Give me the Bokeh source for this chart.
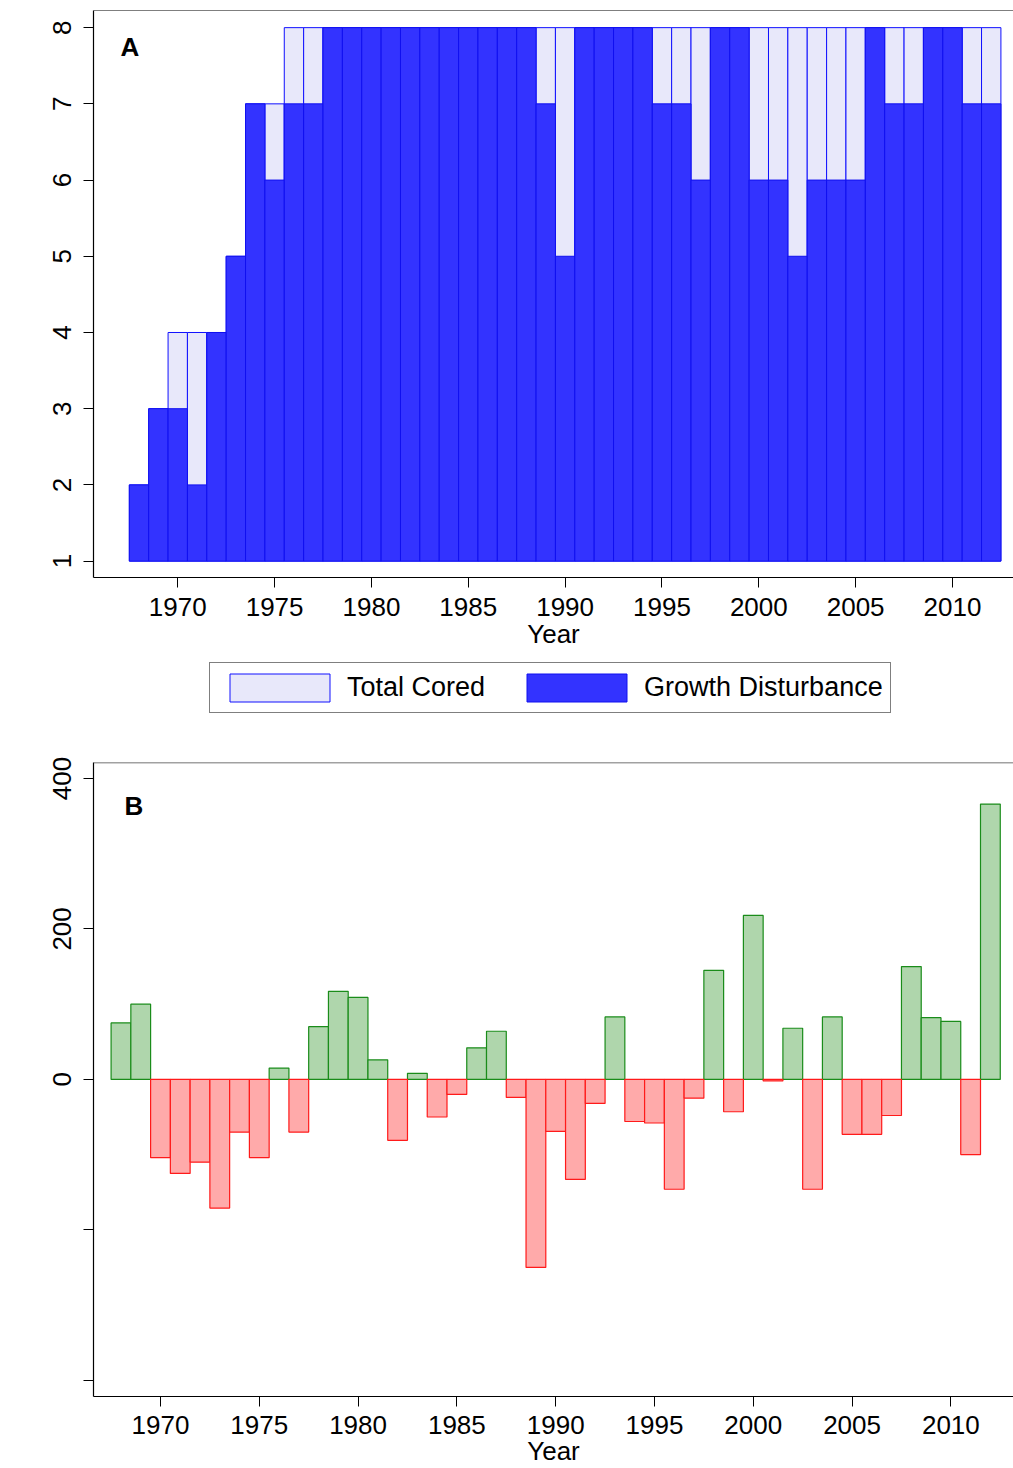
from bokeh.plotting import figure
from bokeh.layouts import column
from bokeh.models import (ColumnDataSource, Legend, LegendItem, FixedTicker,
                          Range1d, Span, Label)
from bokeh.embed import file_html
from bokeh.resources import INLINE

# ---------------- data ----------------
years = [1968, 1969, 1970, 1971, 1972, 1973, 1974, 1975, 1976, 1977,
         1978, 1979, 1980, 1981, 1982, 1983, 1984, 1985, 1986, 1987,
         1988, 1989, 1990, 1991, 1992, 1993, 1994, 1995, 1996, 1997,
         1998, 1999, 2000, 2001, 2002, 2003, 2004, 2005, 2006, 2007,
         2008, 2009, 2010, 2011, 2012]

total_cored = [2, 3, 4, 4, 4, 5, 7, 7, 8, 8,
               8, 8, 8, 8, 8, 8, 8, 8, 8, 8,
               8, 8, 8, 8, 8, 8, 8, 8, 8, 8,
               8, 8, 8, 8, 8, 8, 8, 8, 8, 8,
               8, 8, 8, 8, 8]

growth_disturbance = [2, 3, 3, 2, 4, 5, 7, 6, 7, 7,
                      8, 8, 8, 8, 8, 8, 8, 8, 8, 8,
                      8, 7, 5, 8, 8, 8, 8, 7, 7, 6,
                      8, 8, 6, 6, 5, 6, 6, 6, 8, 7,
                      7, 8, 8, 7, 7]

departure = [75, 100, -104, -125, -110, -171, -70, -104, 15, -70,
             70, 117, 109, 26, -81, 8, -50, -20, 42, 64,
             -24, -250, -69, -133, -32, 83, -56, -58, -146, -25,
             145, -43, 218, -2, 68, -146, 83, -73, -73, -48,
             150, 82, 77, -100, 366]

legend_labels = ["Total Cored", "Growth Disturbance"]
x_ticks = [1970, 1975, 1980, 1985, 1990, 1995, 2000, 2005, 2010]
a_y_ticks = [1, 2, 3, 4, 5, 6, 7, 8]
b_y_ticks = [-400, -200, 0, 200, 400]
b_hidden_labels = {-400: "", -200: ""}

FONT = "Liberation Sans"
FS = "26px"

TOT_FILL, TOT_LINE = "#E8E8FA", "#1010FF"
GD_FILL, GD_LINE = "#3333FF", "#1010F0"


def style(p):
    p.outline_line_color = None
    p.background_fill_color = "white"
    p.border_fill_color = "white"
    p.xgrid.visible = False
    p.ygrid.visible = False
    for ax in (p.xaxis, p.yaxis):
        ax.axis_line_color = "black"
        ax.axis_line_width = 1.2
        ax.major_tick_line_color = "black"
        ax.major_tick_out = 10
        ax.major_tick_in = 0
        ax.minor_tick_line_color = None
        ax.major_label_text_font = FONT
        ax.major_label_text_font_size = FS
        ax.major_label_text_color = "black"
        ax.axis_label_text_font = FONT
        ax.axis_label_text_font_size = FS
        ax.axis_label_text_font_style = "normal"
        ax.axis_label_text_color = "black"
    p.yaxis.major_label_orientation = "vertical"
    p.yaxis.major_label_standoff = 12
    p.xaxis.major_label_standoff = 10
    p.xaxis.axis_label_standoff = 0


# ---------------- panel A ----------------
srcA = ColumnDataSource(dict(year=years, total=total_cored, gd=growth_disturbance))

pA = figure(width=1013, height=655,
            x_range=Range1d(1965.65, 2013.15), y_range=Range1d(0.785, 8.225),
            output_backend="svg", toolbar_location=None,
            min_border_left=93, min_border_right=0, min_border_top=10,
            min_border_bottom=78)
style(pA)
pA.xaxis.ticker = FixedTicker(ticks=x_ticks, minor_ticks=[])
pA.yaxis.ticker = FixedTicker(ticks=a_y_ticks, minor_ticks=[])
pA.xaxis.axis_label = "Year"

pA.vbar(x="year", top="total", bottom=1, width=1, source=srcA,
        fill_color=TOT_FILL, line_color=TOT_LINE, line_width=1)
pA.vbar(x="year", top="gd", bottom=1, width=1, source=srcA,
        fill_color=GD_FILL, line_color=GD_LINE, line_width=1)

pA.add_layout(Span(location=8.225, dimension="width", line_color="black", line_width=1.2))
pA.add_layout(Label(x=1967.04, y=7.74, text="A", text_font=FONT, text_font_size=FS,
                    text_font_style="bold", text_color="black", text_baseline="alphabetic"))

# ---------------- legend strip ----------------
pL = figure(width=1013, height=77, x_range=Range1d(10, 11), y_range=Range1d(10, 11),
            output_backend="svg", toolbar_location=None,
            x_axis_location=None, y_axis_location=None,
            min_border_left=93, min_border_right=0, min_border_top=0, min_border_bottom=0)
pL.outline_line_color = None
pL.grid.grid_line_color = None
pL.grid.visible = False
pL.background_fill_color = "white"
pL.border_fill_color = "white"
# swatch renderers for the legend only (their data lies outside the strip's range)
l_tot = pL.vbar(x=[0], top=[1], bottom=0, width=1,
                fill_color=TOT_FILL, line_color=TOT_LINE, line_width=1)
l_gd = pL.vbar(x=[0], top=[1], bottom=0, width=1,
               fill_color=GD_FILL, line_color=GD_LINE, line_width=1)

legend = Legend(items=[LegendItem(label=legend_labels[0], renderers=[l_tot]),
                       LegendItem(label=legend_labels[1], renderers=[l_gd])],
                orientation="horizontal", location=(116, 19),
                label_text_font=FONT, label_text_font_size="27px", label_text_color="black",
                glyph_width=125, glyph_height=35, label_standoff=5, spacing=29,
                padding=7, margin=0,
                border_line_color="black", border_line_width=1.2,
                background_fill_color="white", background_fill_alpha=1.0)
pL.add_layout(legend)

# ---------------- panel B ----------------
pos_years = [y for y, v in zip(years, departure) if v >= 0]
pos_vals = [v for v in departure if v >= 0]
neg_years = [y for y, v in zip(years, departure) if v < 0]
neg_vals = [v for v in departure if v < 0]

pB = figure(width=1013, height=736,
            x_range=Range1d(1966.61, 2013.17), y_range=Range1d(-421.5, 421.2),
            output_backend="svg", toolbar_location=None,
            min_border_left=93, min_border_right=0, min_border_top=30,
            min_border_bottom=71)
style(pB)
pB.xaxis.ticker = FixedTicker(ticks=x_ticks, minor_ticks=[])
pB.yaxis.ticker = FixedTicker(ticks=b_y_ticks, minor_ticks=[])
pB.yaxis.major_label_overrides = b_hidden_labels
pB.xaxis.axis_label = "Year"
pB.xaxis.major_label_standoff = 9
pB.xaxis.axis_label_standoff = -1

pB.vbar(x=pos_years, top=pos_vals, bottom=0, width=1,
        fill_color="#AFD6AC", line_color="#1A8C1A", line_width=1.2)
pB.vbar(x=neg_years, top=0, bottom=neg_vals, width=1,
        fill_color="#FFAAAA", line_color="#FF1A1A", line_width=1.2)

pB.add_layout(Span(location=421.2, dimension="width", line_color="#444444", line_width=1.5))
pB.add_layout(Label(x=1968.18, y=364, text="B", text_font=FONT, text_font_size=FS,
                    text_font_style="bold", text_color="black", text_baseline="alphabetic"))

layout = column(pA, pL, pB, spacing=0)
open("out.html", "w").write(file_html(layout, INLINE))
